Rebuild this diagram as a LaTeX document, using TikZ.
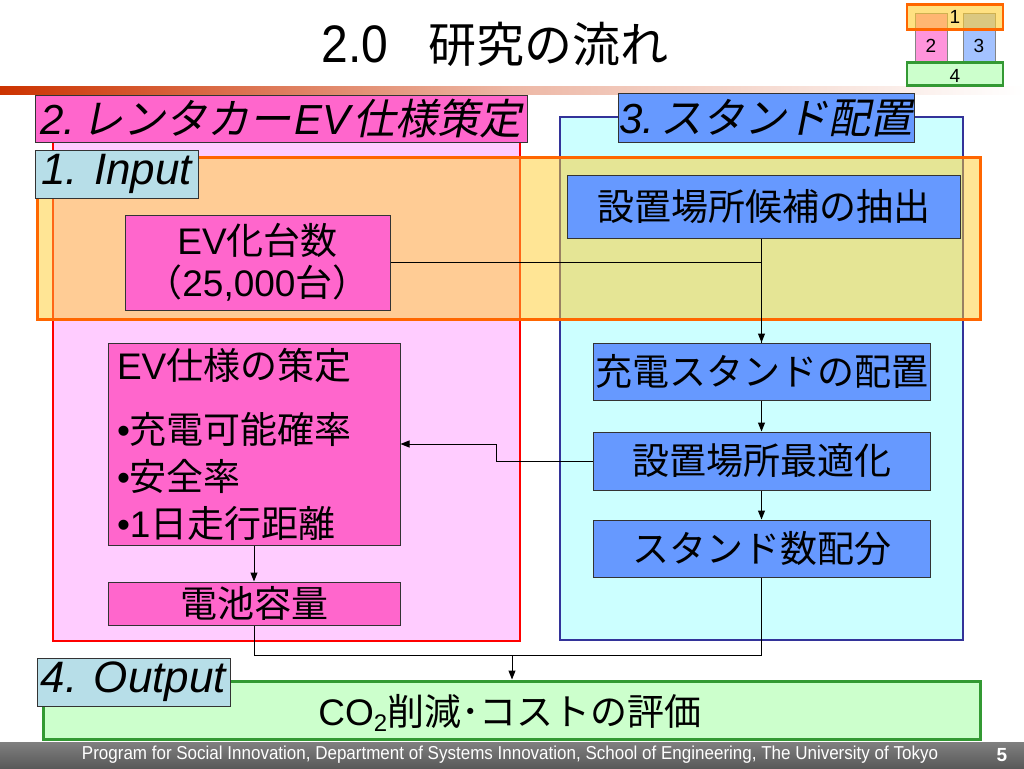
\documentclass[tikz,border=0pt]{standalone}
\usepackage{fontspec}
\setmainfont{Liberation Sans}
\newfontfamily\jp{Noto Sans CJK JP}
\newfontfamily\jpit[FakeSlant=0.2]{Noto Sans CJK JP}
\usetikzlibrary{arrows.meta}
\newcommand\J[1]{{\jp #1}}
\newcommand\JI[1]{{\jpit #1}}
\newcommand\fs[1]{\fontsize{#1}{#1}\selectfont}
\definecolor{pinkbg}{HTML}{FFCCFF}
\definecolor{magbox}{HTML}{FF66CC}
\definecolor{cyanbg}{HTML}{CCFFFF}
\definecolor{bluebox}{HTML}{6699FF}
\definecolor{tealab}{HTML}{B7DEE8}
\definecolor{greenbg}{HTML}{CCFFCC}
\definecolor{greenln}{HTML}{339933}
\definecolor{orangeln}{HTML}{FF6600}
\definecolor{inputfill}{RGB}{255,205,45}
\definecolor{navyln}{HTML}{333399}
\definecolor{darkln}{HTML}{333333}
\definecolor{headred}{HTML}{CC3300}
\tikzset{
  box/.style={draw=darkln, line width=1pt, inner sep=0pt, align=center, font=\fs{37}},
  magnode/.style={box, fill=magbox},
  bluenode/.style={box, fill=bluebox},
  seclabel/.style={draw=darkln, line width=1pt, inner sep=0pt, align=center, font=\fs{42}\itshape},
  conn/.style={draw=black, line width=1pt},
  arr/.style={conn, -{Triangle[length=9pt,width=7pt]}},
  icontext/.style={font=\fs{19}, inner sep=0pt},
}
\begin{document}
\begin{tikzpicture}[x=1pt, y=-1pt]
\useasboundingbox (0,0) rectangle (1024,768);
\fill[white] (0,0) rectangle (1024,768);

% title
\node[inner sep=0pt, anchor=base] (title) at (495,63) {\fs{48}\scalebox{1}[1.1]{2.0}\hspace{40pt}\J{研究の流れ}};

% header gradient line
\shade[left color=headred, right color=white, middle color=headred!35] (0,86) rectangle (1024,94);

% icon
\node[draw=darkln!60, fill=magbox!70, minimum width=32pt, minimum height=48pt, inner sep=0pt] (ic2) at (931,37) {};
\node[draw=darkln!60, fill=bluebox!60, minimum width=32pt, minimum height=48pt, inner sep=0pt] (ic3) at (979,37) {};
\node[draw=orangeln, line width=2.5pt, fill=inputfill, fill opacity=0.6, minimum width=96pt, minimum height=25pt, inner sep=0pt] (ic1) at (955,17) {};
\node[draw=greenln, line width=2.5pt, fill=greenbg, minimum width=96pt, minimum height=23pt, inner sep=0pt] (ic4) at (955,74) {};
\node[icontext] (t1) at (955,17) {1};
\node[icontext] (t2) at (931,46) {2};
\node[icontext] (t3) at (979,46) {3};
\node[icontext] (t4) at (955,76) {4};

% section containers
\node[draw=red, line width=2pt, fill=pinkbg, minimum width=467pt, minimum height=521pt, inner sep=0pt] (pinkarea) at (286.5,380.5) {};
\node[draw=navyln, line width=2pt, fill=cyanbg, minimum width=403pt, minimum height=523pt, inner sep=0pt] (bluearea) at (761.5,378.5) {};
\node[seclabel, fill=magbox, minimum width=492pt, minimum height=47pt] (lab2) at (281,118.5) {2.\hspace{6pt}\JI{レンタカー}\hspace{3pt}EV\hspace{3pt}\JI{仕様策定}};
\node[seclabel, fill=bluebox, minimum width=296pt, minimum height=49pt] (lab3) at (766,118) {3.\hspace{6pt}\JI{スタンド配置}};

% input overlay
\node[draw=orangeln, line width=3pt, fill=inputfill, fill opacity=0.5, minimum width=943pt, minimum height=162pt, inner sep=0pt] (inputarea) at (508.5,238) {};
\node[seclabel, fill=tealab, minimum width=163pt, minimum height=48pt, font=\fs{44}\itshape] (lab1) at (116.5,174) {1. Input};

% nodes
\node[magnode, minimum width=265pt, minimum height=95pt] (ev) at (257.5,262.5) {EV\J{化台数}\\[5pt]\J{（}25,000\J{台）}};
\node[bluenode, minimum width=393pt, minimum height=63pt] (cand) at (763.5,206.5) {\J{設置場所候補の抽出}};
\node[magnode, minimum width=292pt, minimum height=202pt, align=left, text width=274pt, font=\fontsize{37}{47}\selectfont] (spec) at (254,444)
  {EV\J{仕様の策定}\\[17pt]•\J{充電可能確率}\\•\J{安全率}\\•1\J{日走行距離}};
\node[magnode, minimum width=292pt, minimum height=43pt] (bat) at (254,603.5) {\J{電池容量}};
\node[bluenode, minimum width=337pt, minimum height=57pt] (place) at (761.5,371.5) {\J{充電スタンドの配置}};
\node[bluenode, minimum width=337pt, minimum height=58pt] (opt) at (761.5,461) {\J{設置場所最適化}};
\node[bluenode, minimum width=337pt, minimum height=57pt] (count) at (761.5,548.5) {\J{スタンド数配分}};

% output
\node[draw=greenln, line width=3pt, fill=greenbg, minimum width=937pt, minimum height=58pt, inner sep=0pt] (out) at (511.5,710) {};
\node[inner sep=0pt, font=\fs{37}] (outtext) at (510,713) {CO\raisebox{-6pt}{\fs{24}2}\J{削減･コストの評価}};
\node[seclabel, fill=tealab, minimum width=193pt, minimum height=48pt, font=\fs{44}\itshape] (lab4) at (133.5,682) {4. Output};

% connectors
\draw[arr] (cand.south -| place.north) -- (place.north);
\draw[conn] (ev.east) -| (place.north);
\draw[arr] (place.south) -- (opt.north);
\draw[arr] (opt.south) -- (count.north);
\coordinate (bend) at (496,461);
\draw[arr] (opt.west) -- (bend) |- (spec.east);
\draw[arr] (spec.south) -- (bat.north);
\coordinate (join) at (512,655);
\draw[conn] (bat.south) |- (join);
\draw[conn] (count.south) |- (join);
\draw[arr] (join) -- (join |- out.north);

% footer
\shade[top color=black!50, bottom color=black!65] (0,742) rectangle (1024,768);
\node[text=white, inner sep=0pt, font=\fs{17}] (foot) at (510,755) {\scalebox{1}[1.1]{Program for Social Innovation, Department of Systems Innovation, School of Engineering, The University of Tokyo}};
\node[text=white, inner sep=0pt, font=\fs{19}\bfseries] (page) at (1002,755) {5};
\end{tikzpicture}
\end{document}
